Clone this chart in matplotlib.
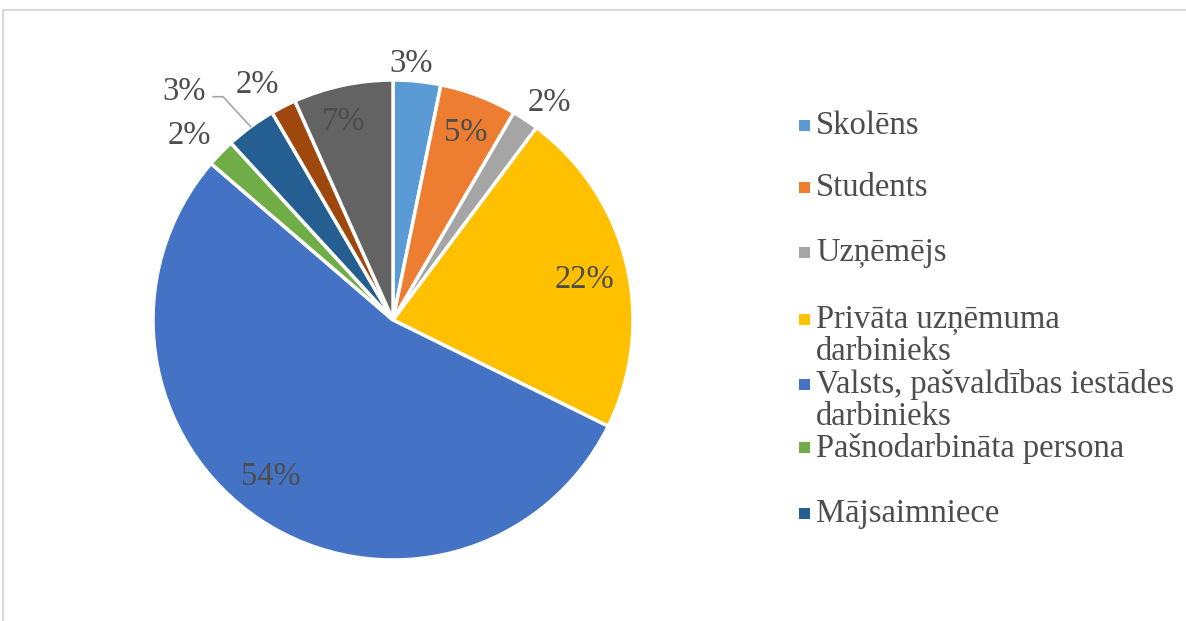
import numpy as np
import matplotlib
matplotlib.use('Agg')
import matplotlib.pyplot as plt
from matplotlib.patches import Rectangle

plt.rcParams['font.family'] = ['Liberation Serif', 'DejaVu Serif']

# Dati (nolasīti no attēla, %)
categories = ['Skolēns', 'Students', 'Uzņēmējs', 'Privāta uzņēmuma\ndarbinieks',
              'Valsts, pašvaldības iestādes\ndarbinieks', 'Pašnodarbināta persona',
              'Mājsaimniece', 'Pensionārs', 'Cits']
values = [3.2, 5.2, 1.8, 22.1, 54.0, 1.9, 3.4, 1.7, 6.7]
labels = ['3%', '5%', '2%', '22%', '54%', '2%', '3%', '2%', '7%']
colors = ['#5B9BD5', '#ED7D31', '#A5A5A5', '#FFC000', '#4472C4',
          '#70AD47', '#255E91', '#9E480E', '#636363']

# cik tālu no centra (relatīvi pret rādiusu) liek procentu tekstu
label_dist = [1.08, 0.85, 1.12, 0.82, 0.82, 1.15, 1.30, 1.15, 0.87]
# nelielas nobīdes pikseļos (x pa labi, y uz leju)
label_nudge = [(-8, 2), (0, 3), (8, 7), (0, 6), (-14, -7),
               (-5, 8), (-24, 23), (-10, 10), (-6, 6)]
# legendā redzami tikai pirmie 7
legend_y = [126, 188, 253, 320, 385, 448, 514]

W, H = 1186, 621
TEXT = '#4D4D4D'
FS = 23.5


def py(y):
    return H - y


fig = plt.figure(figsize=(W / 100, H / 100), dpi=100)
ax = fig.add_axes([0, 0, 1, 1])
ax.axis('off')

cx, cy, R = 393, py(320), 240
wedges, _ = ax.pie(values, colors=colors, startangle=90, counterclock=False,
                   center=(cx, cy), radius=R,
                   wedgeprops=dict(edgecolor='white', linewidth=2.5))
ax.set_xlim(0, W)
ax.set_ylim(0, H)
ax.set_aspect('equal')

for i, w in enumerate(wedges):
    mid = np.radians((w.theta1 + w.theta2) / 2)
    d = label_dist[i]
    tx = cx + R * d * np.cos(mid) + label_nudge[i][0]
    ty = cy + R * d * np.sin(mid) - label_nudge[i][1]
    if d > 1.25:
        # vilkums uz mazo sektoru
        ex = cx + R * 1.0 * np.cos(mid)
        ey = cy + R * 1.0 * np.sin(mid)
        ax.plot([tx + 29, tx + 39, ex], [ty - 5, ty - 5, ey],
                color='#A6A6A6', lw=1.2, zorder=3)
    ax.text(tx, ty, labels[i], fontsize=FS, color=TEXT,
            ha='center', va='center', zorder=4)

# legenda
for i, y in enumerate(legend_y):
    ax.add_patch(Rectangle((799, py(y) - 5), 11, 11,
                           facecolor=colors[i], edgecolor='none'))
    for j, line in enumerate(categories[i].split('\n')):
        ax.text(816, py(y + 32 * j), line, fontsize=FS, color=TEXT,
                ha='left', va='center')

# rāmis (apgriezts)
ax.plot([3, W], [py(10), py(10)], color='#D9D9D9', lw=1.5)
ax.plot([3, 3], [py(10), 0], color='#D9D9D9', lw=1.5)

fig.savefig('out.png', dpi=100, facecolor='white')
